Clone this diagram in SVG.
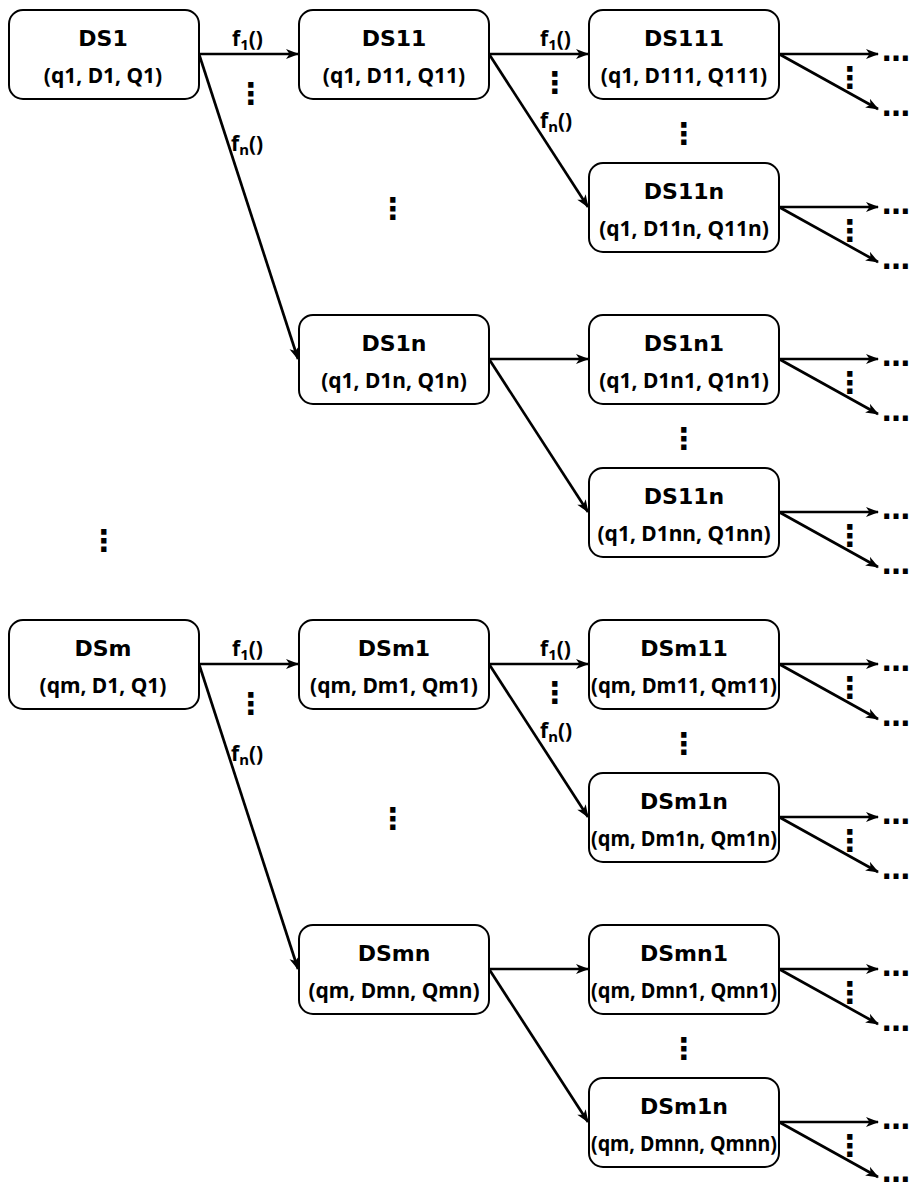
<svg xmlns="http://www.w3.org/2000/svg" width="909" height="1184" viewBox="0 0 909 1184">
<style>
.box{fill:#fff;stroke:#000;stroke-width:2}
.t{font-family:"DejaVu Sans",sans-serif;font-weight:bold;font-size:22px;text-anchor:middle;fill:#000}
.s{font-family:"Noto Sans","DejaVu Sans",sans-serif;font-weight:bold;font-size:21px;text-anchor:middle;fill:#000}
.lbl{font-family:"Noto Sans","DejaVu Sans",sans-serif;font-weight:bold;font-size:21px;fill:#000}
.sub{font-size:15px}
.vd{font-family:"DejaVu Sans",sans-serif;font-weight:bold;font-size:30px;text-anchor:middle;fill:#000}
.hd{font-family:"DejaVu Sans",sans-serif;font-weight:bold;font-size:28px;fill:#000}
.ln{stroke:#000;stroke-width:2.7;fill:none;marker-end:url(#ah)}
</style>
<defs>
<marker id="ah" markerUnits="userSpaceOnUse" markerWidth="13" markerHeight="11" refX="12" refY="5.5" orient="auto" viewBox="0 0 13 11"><path d="M0,0.5 L13,5.5 L0,10.5 L3.5,5.5 z" fill="#000"/></marker>
</defs>
<rect width="909" height="1184" fill="#fff"/>

<g id="connectors">
<line class="ln" x1="199" y1="54" x2="298" y2="54"/>
<line class="ln" x1="199" y1="54" x2="298" y2="359"/>
<line class="ln" x1="199" y1="664" x2="298" y2="664"/>
<line class="ln" x1="199" y1="664" x2="298" y2="969"/>
<line class="ln" x1="489" y1="54" x2="588" y2="54"/>
<line class="ln" x1="489" y1="54" x2="588" y2="207"/>
<line class="ln" x1="489" y1="359" x2="588" y2="359"/>
<line class="ln" x1="489" y1="359" x2="588" y2="512"/>
<line class="ln" x1="489" y1="664" x2="588" y2="664"/>
<line class="ln" x1="489" y1="664" x2="588" y2="817"/>
<line class="ln" x1="489" y1="969" x2="588" y2="969"/>
<line class="ln" x1="489" y1="969" x2="588" y2="1122"/>
<line class="ln" x1="779" y1="54" x2="878" y2="54"/>
<line class="ln" x1="779" y1="54" x2="878" y2="109"/>
<line class="ln" x1="779" y1="207" x2="878" y2="207"/>
<line class="ln" x1="779" y1="207" x2="878" y2="262"/>
<line class="ln" x1="779" y1="359" x2="878" y2="359"/>
<line class="ln" x1="779" y1="359" x2="878" y2="414"/>
<line class="ln" x1="779" y1="512" x2="878" y2="512"/>
<line class="ln" x1="779" y1="512" x2="878" y2="567"/>
<line class="ln" x1="779" y1="664" x2="878" y2="664"/>
<line class="ln" x1="779" y1="664" x2="878" y2="719"/>
<line class="ln" x1="779" y1="817" x2="878" y2="817"/>
<line class="ln" x1="779" y1="817" x2="878" y2="872"/>
<line class="ln" x1="779" y1="969" x2="878" y2="969"/>
<line class="ln" x1="779" y1="969" x2="878" y2="1024"/>
<line class="ln" x1="779" y1="1122" x2="878" y2="1122"/>
<line class="ln" x1="779" y1="1122" x2="878" y2="1177"/>
</g>

<g id="labels">
<text class="lbl" x="232" y="46">f<tspan class="sub" dy="4">1</tspan><tspan dy="-4">()</tspan></text>
<text class="lbl" x="231" y="151">f<tspan class="sub" dy="4">n</tspan><tspan dy="-4">()</tspan></text>
<text class="lbl" x="540" y="46">f<tspan class="sub" dy="4">1</tspan><tspan dy="-4">()</tspan></text>
<text class="lbl" x="540" y="128">f<tspan class="sub" dy="4">n</tspan><tspan dy="-4">()</tspan></text>
<text class="lbl" x="232" y="656">f<tspan class="sub" dy="4">1</tspan><tspan dy="-4">()</tspan></text>
<text class="lbl" x="231" y="761">f<tspan class="sub" dy="4">n</tspan><tspan dy="-4">()</tspan></text>
<text class="lbl" x="540" y="656">f<tspan class="sub" dy="4">1</tspan><tspan dy="-4">()</tspan></text>
<text class="lbl" x="540" y="738">f<tspan class="sub" dy="4">n</tspan><tspan dy="-4">()</tspan></text>
</g>

<g id="ellipses">
<text class="vd" x="251" y="104">⋮</text>
<text class="vd" x="555" y="93">⋮</text>
<text class="vd" x="393" y="219">⋮</text>
<text class="vd" x="684" y="144">⋮</text>
<text class="vd" x="684" y="449">⋮</text>
<text class="vd" x="104" y="551">⋮</text>
<text class="vd" x="251" y="714">⋮</text>
<text class="vd" x="555" y="703">⋮</text>
<text class="vd" x="393" y="829">⋮</text>
<text class="vd" x="684" y="754">⋮</text>
<text class="vd" x="684" y="1059">⋮</text>
<text class="vd" x="850" y="88">⋮</text>
<text class="vd" x="850" y="241">⋮</text>
<text class="vd" x="850" y="393">⋮</text>
<text class="vd" x="850" y="546">⋮</text>
<text class="vd" x="850" y="698">⋮</text>
<text class="vd" x="850" y="851">⋮</text>
<text class="vd" x="850" y="1003">⋮</text>
<text class="vd" x="850" y="1156">⋮</text>
<text class="hd" x="882" y="61">…</text>
<text class="hd" x="882" y="116">…</text>
<text class="hd" x="882" y="214">…</text>
<text class="hd" x="882" y="269">…</text>
<text class="hd" x="882" y="366">…</text>
<text class="hd" x="882" y="421">…</text>
<text class="hd" x="882" y="519">…</text>
<text class="hd" x="882" y="574">…</text>
<text class="hd" x="882" y="671">…</text>
<text class="hd" x="882" y="726">…</text>
<text class="hd" x="882" y="824">…</text>
<text class="hd" x="882" y="879">…</text>
<text class="hd" x="882" y="976">…</text>
<text class="hd" x="882" y="1031">…</text>
<text class="hd" x="882" y="1129">…</text>
<text class="hd" x="882" y="1182">…</text>
</g>

<g id="DS1"><rect class="box" x="9" y="10" width="190" height="89" rx="14"/><text class="t" x="103" y="46">DS1</text><text class="s" x="103" y="83">(q1, D1, Q1)</text></g>
<g id="DSm"><rect class="box" x="9" y="620" width="190" height="89" rx="14"/><text class="t" x="103" y="656">DSm</text><text class="s" x="103" y="693">(qm, D1, Q1)</text></g>

<g id="DS11"><rect class="box" x="299" y="10" width="190" height="89" rx="14"/><text class="t" x="394" y="46">DS11</text><text class="s" x="394" y="83">(q1, D11, Q11)</text></g>
<g id="DS1n"><rect class="box" x="299" y="315" width="190" height="89" rx="14"/><text class="t" x="394" y="351">DS1n</text><text class="s" x="394" y="388">(q1, D1n, Q1n)</text></g>
<g id="DSm1"><rect class="box" x="299" y="620" width="190" height="89" rx="14"/><text class="t" x="394" y="656">DSm1</text><text class="s" x="394" y="693">(qm, Dm1, Qm1)</text></g>
<g id="DSmn"><rect class="box" x="299" y="925" width="190" height="89" rx="14"/><text class="t" x="394" y="961">DSmn</text><text class="s" x="394" y="998">(qm, Dmn, Qmn)</text></g>

<g id="DS111"><rect class="box" x="589" y="10" width="190" height="89" rx="14"/><text class="t" x="684" y="46">DS111</text><text class="s" x="684" y="83">(q1, D111, Q111)</text></g>
<g id="DS11n"><rect class="box" x="589" y="163" width="190" height="89" rx="14"/><text class="t" x="684" y="199">DS11n</text><text class="s" x="684" y="236">(q1, D11n, Q11n)</text></g>
<g id="DS1n1"><rect class="box" x="589" y="315" width="190" height="89" rx="14"/><text class="t" x="684" y="351">DS1n1</text><text class="s" x="684" y="388">(q1, D1n1, Q1n1)</text></g>
<g id="DS11n-b"><rect class="box" x="589" y="468" width="190" height="89" rx="14"/><text class="t" x="684" y="504">DS11n</text><text class="s" x="684" y="541">(q1, D1nn, Q1nn)</text></g>
<g id="DSm11"><rect class="box" x="589" y="620" width="190" height="89" rx="14"/><text class="t" x="684" y="656">DSm11</text><text class="s" x="684" y="693" textLength="186" lengthAdjust="spacingAndGlyphs">(qm, Dm11, Qm11)</text></g>
<g id="DSm1n"><rect class="box" x="589" y="773" width="190" height="89" rx="14"/><text class="t" x="684" y="809">DSm1n</text><text class="s" x="684" y="846" textLength="186" lengthAdjust="spacingAndGlyphs">(qm, Dm1n, Qm1n)</text></g>
<g id="DSmn1"><rect class="box" x="589" y="925" width="190" height="89" rx="14"/><text class="t" x="684" y="961">DSmn1</text><text class="s" x="684" y="998" textLength="186" lengthAdjust="spacingAndGlyphs">(qm, Dmn1, Qmn1)</text></g>
<g id="DSm1n-b"><rect class="box" x="589" y="1078" width="190" height="89" rx="14"/><text class="t" x="684" y="1114">DSm1n</text><text class="s" x="684" y="1151" textLength="186" lengthAdjust="spacingAndGlyphs">(qm, Dmnn, Qmnn)</text></g>
</svg>
